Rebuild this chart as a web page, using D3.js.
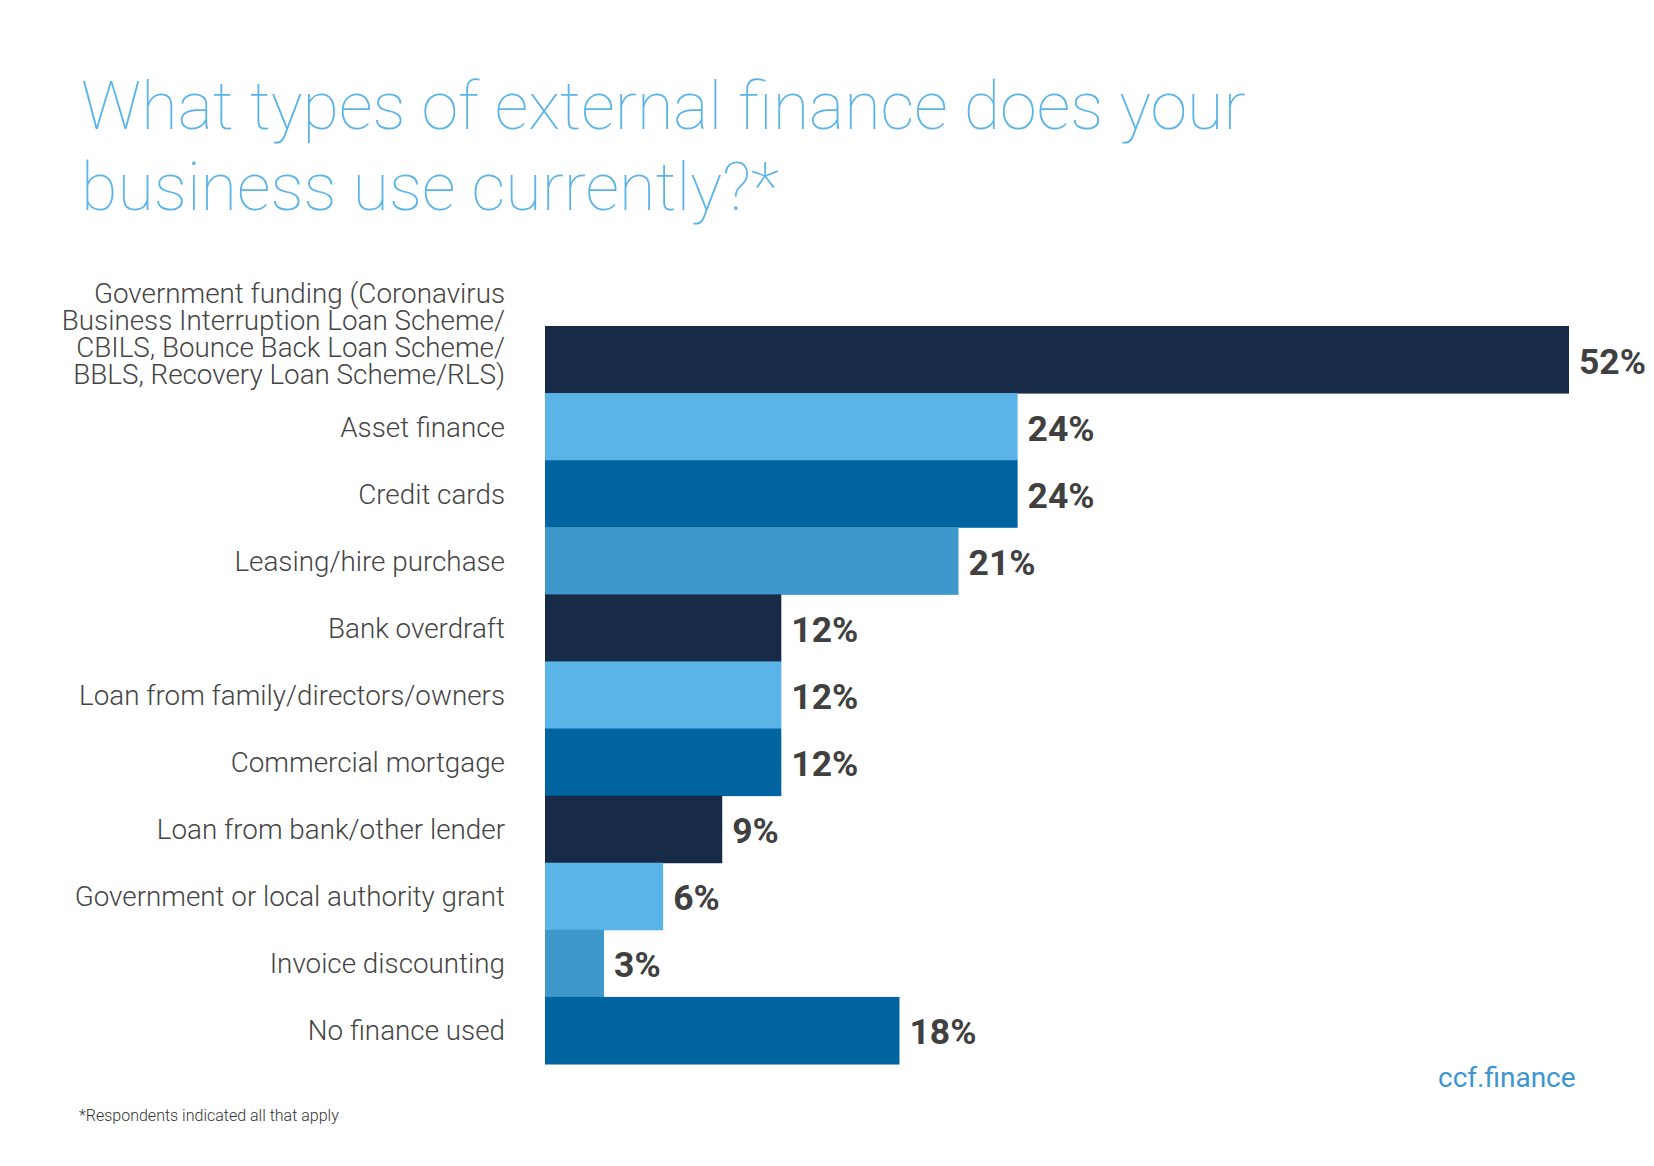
<!DOCTYPE html>
<html>
<head>
<meta charset="utf-8">
<script src="https://cdn.jsdelivr.net/npm/d3@7"></script>
<style>
  html, body { margin: 0; padding: 0; background: #ffffff; }
  svg { display: block; }
  text { font-family: Roboto, "Noto Sans", sans-serif; }
</style>
</head>
<body>
<svg id="chart" width="1654" height="1166"></svg>
<script>
// ---- data ----
const titleLines = ["What types of external finance does your", "business use currently?*"];
const categories = [
  "Government funding (Coronavirus|Business Interruption Loan Scheme/|CBILS, Bounce Back Loan Scheme/|BBLS, Recovery Loan Scheme/RLS)",
  "Asset finance",
  "Credit cards",
  "Leasing/hire purchase",
  "Bank overdraft",
  "Loan from family/directors/owners",
  "Commercial mortgage",
  "Loan from bank/other lender",
  "Government or local authority grant",
  "Invoice discounting",
  "No finance used"
];
const values = [52, 24, 24, 21, 12, 12, 12, 9, 6, 3, 18];
const footnote = "*Respondents indicated all that apply";
const brand = "ccf.finance";

// ---- styles ----
const NAVY = "#172a47", LIGHT = "#5bb4e8", BLUE = "#0064a0", STEEL = "#3e98cc";
const barColors = [NAVY, LIGHT, BLUE, STEEL, NAVY, LIGHT, BLUE, NAVY, LIGHT, STEEL, BLUE];

const svg = d3.select("#chart");
svg.append("rect").attr("width", 1654).attr("height", 1166).attr("fill", "#ffffff");

// title
const title = svg.append("text")
  .attr("x", 81).attr("y", 129)
  .attr("font-size", 66.5).attr("font-weight", 100)
  .style("font-family", "'Roboto Thin', Roboto, sans-serif")
  .attr("fill", "#5ab4e8");
title.selectAll("tspan").data(titleLines).join("tspan")
  .attr("x", 81).attr("dy", (d, i) => i === 0 ? 0 : 81)
  .text(d => d);

// scales
const x = d3.scaleLinear().domain([0, 52]).range([545, 1569]);
const y = d3.scaleBand().domain(categories).range([326, 1064]).padding(0);

// bars
svg.append("g").selectAll("rect").data(categories).join("rect")
  .attr("x", x(0))
  .attr("y", d => y(d))
  .attr("width", (d, i) => x(values[i]) - x(0))
  .attr("height", y.bandwidth() + 0.5)
  .attr("fill", (d, i) => barColors[i]);

// category labels
const labels = svg.append("g")
  .attr("font-size", 27.8).attr("font-weight", 300).attr("fill", "#444444")
  .attr("text-anchor", "end");
categories.forEach((c, i) => {
  const lines = c.split("|");
  const cy = y(c) + y.bandwidth() / 2;
  if (lines.length === 1) {
    labels.append("text").attr("x", 505).attr("y", cy + 10).text(c);
  } else {
    const lastBase = cy + 24;
    lines.forEach((ln, k) => {
      labels.append("text").attr("x", 505)
        .attr("y", lastBase - (lines.length - 1 - k) * 27)
        .text(ln);
    });
  }
});

// value labels
svg.append("g").selectAll("text").data(categories).join("text")
  .attr("x", (d, i) => x(values[i]) + 10)
  .attr("y", d => y(d) + y.bandwidth() / 2 + 14)
  .attr("font-size", 35.5).attr("font-weight", 700).attr("fill", "#404040")
  .text((d, i) => values[i] + "%");

// brand
svg.append("text").attr("x", 1438).attr("y", 1087)
  .attr("font-size", 28).attr("font-weight", 400).attr("fill", "#3d96d0")
  .text(brand);

// footnote
svg.append("text").attr("x", 79).attr("y", 1121)
  .attr("font-size", 16).attr("font-weight", 300).attr("fill", "#333333")
  .text(footnote);
</script>
</body>
</html>
